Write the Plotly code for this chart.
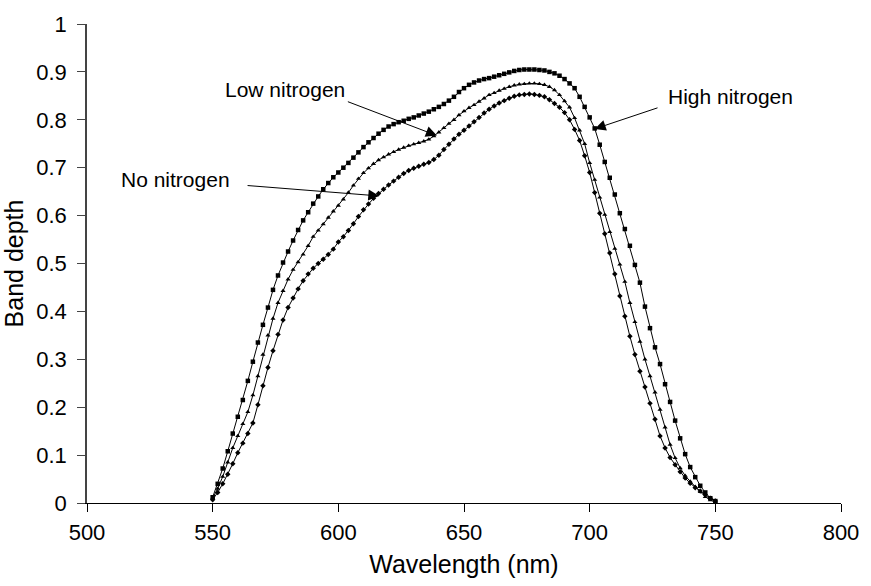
import plotly.graph_objects as go

wavelength = list(range(550, 752, 2))

high_nitrogen = [
    0.012, 0.040, 0.072, 0.108, 0.145, 0.180, 0.215, 0.255, 0.295, 0.335,
    0.372, 0.408, 0.445, 0.475, 0.502, 0.525, 0.548, 0.570, 0.590, 0.607,
    0.625, 0.640, 0.655, 0.668, 0.680, 0.690, 0.700, 0.710, 0.721, 0.732,
    0.743, 0.753, 0.762, 0.771, 0.779, 0.786, 0.791, 0.795, 0.798, 0.802,
    0.805, 0.809, 0.813, 0.817, 0.822, 0.827, 0.833, 0.840, 0.848, 0.858,
    0.866, 0.873, 0.878, 0.882, 0.885, 0.887, 0.890, 0.893, 0.896, 0.899,
    0.902, 0.904, 0.905, 0.905, 0.905, 0.904, 0.903, 0.900, 0.897, 0.892,
    0.885, 0.876, 0.866, 0.848, 0.827, 0.805, 0.782, 0.748, 0.712, 0.679,
    0.644, 0.605, 0.572, 0.537, 0.497, 0.460, 0.410, 0.365, 0.325, 0.290,
    0.248, 0.211, 0.172, 0.135, 0.102, 0.075, 0.054, 0.036, 0.022, 0.010,
    0.004,
]

low_nitrogen = [
    0.010, 0.030, 0.055, 0.085, 0.115, 0.140, 0.165, 0.190, 0.225, 0.265,
    0.310, 0.350, 0.385, 0.418, 0.443, 0.467, 0.487, 0.503, 0.519, 0.537,
    0.556, 0.569, 0.582, 0.596, 0.609, 0.621, 0.634, 0.648, 0.663, 0.677,
    0.689, 0.699, 0.708, 0.716, 0.722, 0.728, 0.733, 0.738, 0.742, 0.746,
    0.749, 0.752, 0.755, 0.759, 0.766, 0.774, 0.783, 0.792, 0.800, 0.810,
    0.818, 0.825, 0.831, 0.838, 0.845, 0.852, 0.856, 0.861, 0.865, 0.869,
    0.872, 0.874, 0.875, 0.876, 0.876, 0.875, 0.873, 0.869, 0.862, 0.852,
    0.839, 0.826, 0.804, 0.778, 0.750, 0.710, 0.675, 0.638, 0.602, 0.566,
    0.531, 0.498, 0.462, 0.418, 0.378, 0.337, 0.300, 0.265, 0.231, 0.195,
    0.158, 0.122, 0.094, 0.073, 0.057, 0.045, 0.034, 0.023, 0.013, 0.006,
    0.002,
]

no_nitrogen = [
    0.007, 0.022, 0.040, 0.060, 0.082, 0.105, 0.125, 0.145, 0.167, 0.205,
    0.245, 0.283, 0.318, 0.352, 0.382, 0.408, 0.428, 0.447, 0.464, 0.478,
    0.490, 0.500, 0.509, 0.519, 0.530, 0.545, 0.556, 0.569, 0.583, 0.598,
    0.612, 0.624, 0.636, 0.646, 0.655, 0.664, 0.672, 0.680, 0.688, 0.694,
    0.699, 0.703, 0.707, 0.711, 0.717, 0.726, 0.738, 0.749, 0.760, 0.770,
    0.778, 0.787, 0.796, 0.805, 0.814, 0.822, 0.829, 0.835, 0.840, 0.845,
    0.849, 0.852, 0.853, 0.854, 0.853, 0.851, 0.848, 0.842, 0.834, 0.826,
    0.815, 0.800, 0.780, 0.757, 0.725, 0.690, 0.648, 0.605, 0.562, 0.522,
    0.478, 0.432, 0.390, 0.348, 0.310, 0.275, 0.242, 0.208, 0.175, 0.140,
    0.115, 0.095, 0.080, 0.065, 0.052, 0.041, 0.032, 0.025, 0.017, 0.010,
    0.004,
]

x_ticks = [500, 550, 600, 650, 700, 750, 800]
y_ticks = [0, 0.1, 0.2, 0.3, 0.4, 0.5, 0.6, 0.7, 0.8, 0.9, 1]

FONT = "Liberation Sans, Arial, sans-serif"

fig = go.Figure()
series = [
    ("High nitrogen", high_nitrogen, "square", 4.5),
    ("Low nitrogen", low_nitrogen, "triangle-up", 4.5),
    ("No nitrogen", no_nitrogen, "diamond", 4.2),
]
for name, vals, sym, sz in series:
    fig.add_trace(go.Scatter(
        x=wavelength, y=vals, name=name, mode="lines+markers",
        line=dict(color="black", width=1),
        marker=dict(symbol=sym, size=sz, color="black", line=dict(width=0)),
        showlegend=False,
    ))

# labels with arrows
labels = [
    dict(text="Low nitrogen", tx=578.6, ty=0.864, ax=603.2, ay=0.839, x=639.2, y=0.767),
    dict(text="No nitrogen", tx=535.2, ty=0.675, ax=563.3, ay=0.663, x=616.3, y=0.641),
    dict(text="High nitrogen", tx=756.0, ty=0.849, ax=727.6, ay=0.826, x=702.0, y=0.781),
]
for lb in labels:
    fig.add_annotation(x=lb["tx"], y=lb["ty"], xref="x", yref="y", text=lb["text"],
                       showarrow=False, font=dict(family=FONT, size=21, color="black"))
    fig.add_annotation(x=lb["x"], y=lb["y"], ax=lb["ax"], ay=lb["ay"],
                       xref="x", yref="y", axref="x", ayref="y", text="",
                       showarrow=True, arrowhead=2, arrowsize=2.2, arrowwidth=1,
                       arrowcolor="black", standoff=0, startstandoff=0)

fig.update_layout(
    width=871, height=586,
    margin=dict(l=85, r=22, t=17, b=79),
    paper_bgcolor="white", plot_bgcolor="white",
    font=dict(family=FONT, size=22, color="black"),
)
fig.update_xaxes(
    range=[500, 800], tickvals=x_ticks, ticks="outside", ticklen=8, tickcolor="black",
    showline=True, linecolor="black", linewidth=1, showgrid=False, zeroline=False,
    tickfont=dict(size=22), ticklabelstandoff=2,
    title=dict(text="Wavelength (nm)", font=dict(size=25), standoff=11),
)
fig.update_yaxes(
    range=[0, 1], tickvals=y_ticks, ticks="outside", ticklen=8, tickcolor="#444",
    showline=True, linecolor="#444", linewidth=1.5, showgrid=False, zeroline=False,
    tickfont=dict(size=22), ticklabelstandoff=6,
    title=dict(text="Band depth", font=dict(size=25), standoff=7),
)

fig.write_html("out.html")
